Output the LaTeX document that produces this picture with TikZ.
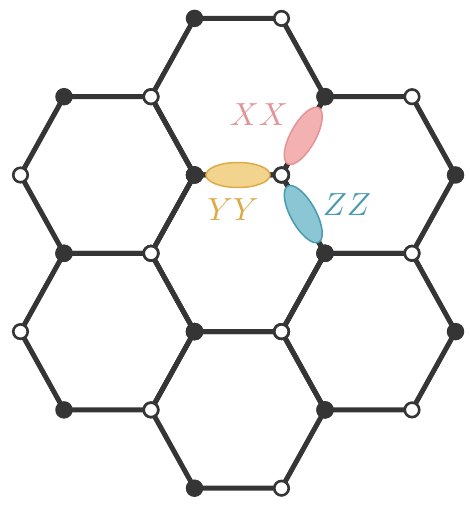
\documentclass[tikz,border=0pt]{standalone}
\usepackage{amsmath}
\usepackage{xcolor}
\usetikzlibrary{shapes.geometric}
\definecolor{latticegray}{HTML}{353535}
\definecolor{xxfill}{HTML}{F4B1B1}
\definecolor{xxline}{HTML}{E29496}
\definecolor{yyfill}{HTML}{F2D48E}
\definecolor{yyline}{HTML}{DDAA48}
\definecolor{zzfill}{HTML}{8AC6D4}
\definecolor{zzline}{HTML}{4A9BAD}
\newcommand{\hexa}{87}
\newcommand{\hexh}{78.3}

\begin{document}
\begin{tikzpicture}[x=1pt, y=1pt,
  bond/.style={line width=5pt, draw=latticegray, line join=round},
  siteA/.style={circle, fill=latticegray, inner sep=0pt, minimum size=17.5pt},
  siteB/.style={circle, draw=latticegray, fill=white, line width=2.6pt, inner sep=0pt, minimum size=14.5pt},
  link/.style={ellipse, sloped, inner sep=0pt, minimum width=64pt, minimum height=25pt, line width=1.5pt},
  linklabel/.style={font=\normalsize, scale=3.2, inner sep=0pt}]
  \useasboundingbox (-238,-251.7) rectangle (232,253.3);
  % hexagon corners, counterclockwise from the right one
  \foreach \hx/\hy [count=\n] in {0/0, 0/156.6, 0/-156.6, -130.5/78.3, 130.5/78.3, -130.5/-78.3, 130.5/-78.3}
    \foreach \dx/\dy [count=\k] in {\hexa/0, 43.5/\hexh, -43.5/\hexh, -\hexa/0, -43.5/-\hexh, 43.5/-\hexh}
      \coordinate (h\n-\k) at ({\hx+\dx},{\hy+\dy});
  \foreach \n in {1,...,7}
    \draw[bond] (h\n-1) -- (h\n-2) -- (h\n-3) -- (h\n-4) -- (h\n-5) -- (h\n-6) -- cycle;
  % the three links at one site
  \path (h1-2) -- node[link, fill=xxfill, draw=xxline] (xx) {} (h5-3);
  \path (h1-3) -- node[link, fill=yyfill, draw=yyline] (yy) {} (h1-2);
  \path (h1-2) -- node[link, fill=zzfill, draw=zzline] (zz) {} (h1-1);
  % sites
  \foreach \n in {1,...,7} {
    \foreach \k in {1,3,5}
      \node[siteA] (a\n-\k) at (h\n-\k) {};
    \foreach \k in {2,4,6}
      \node[siteB] (b\n-\k) at (h\n-\k) {};
  }
  \node[linklabel, text=xxline] (xxlab) at (21,138.3) {$XX$};
  \node[linklabel, text=yyline] (yylab) at (-5,43.3) {$YY$};
  \node[linklabel, text=zzline] (zzlab) at (109,48.3) {$ZZ$};
\end{tikzpicture}
\end{document}
